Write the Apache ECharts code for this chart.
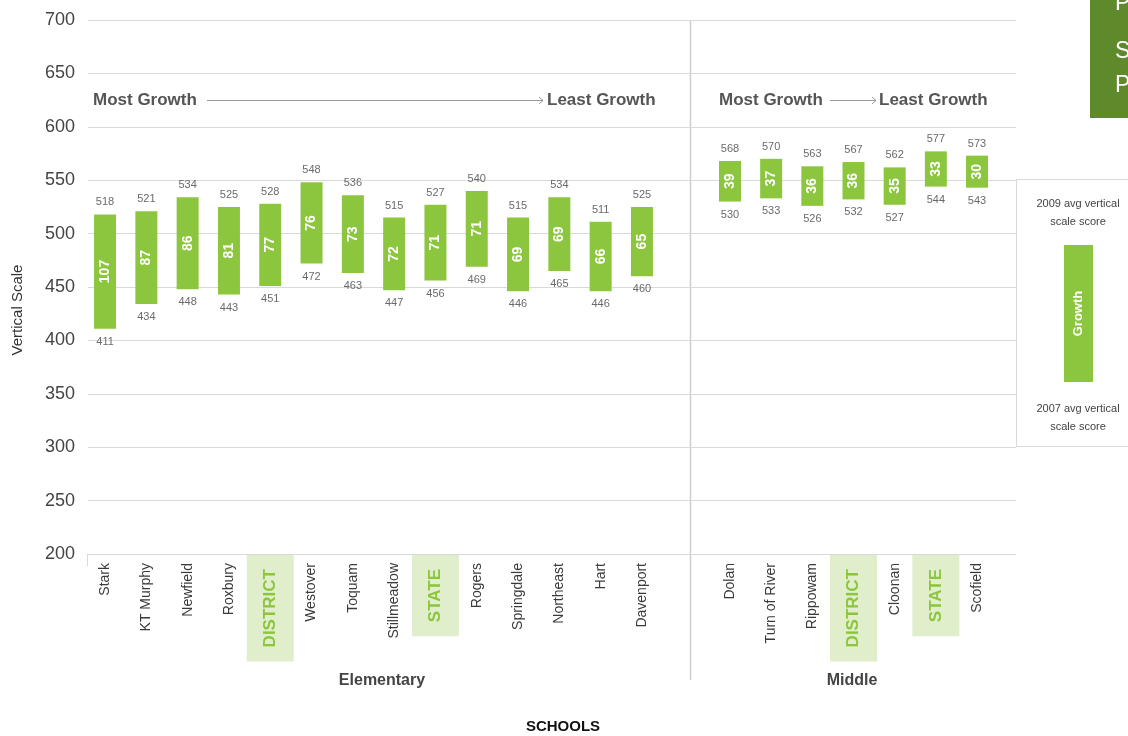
<!DOCTYPE html>
<html>
<head>
<meta charset="utf-8">
<script src="https://cdn.jsdelivr.net/npm/echarts@6/dist/echarts.min.js"></script>
<style>
html,body{margin:0;padding:0;background:#fff;}
#chart{width:1128px;height:736px;}
</style>
</head>
<body>
<div id="chart"></div>
<script>
// ---- data ----
const elemSchools = ['Stark','KT Murphy','Newfield','Roxbury','DISTRICT','Westover','Toquam','Stillmeadow','STATE','Rogers','Springdale','Northeast','Hart','Davenport'];
const elem2007 = [411,434,448,443,451,472,463,447,456,469,446,465,446,460];
const elem2009 = [518,521,534,525,528,548,536,515,527,540,515,534,511,525];
const elemGrowth = [107,87,86,81,77,76,73,72,71,71,69,69,66,65];

const midSchools = ['Dolan','Turn of River','Rippowam','DISTRICT','Cloonan','STATE','Scofield'];
const mid2007 = [530,533,526,532,527,544,543];
const mid2009 = [568,570,563,567,562,577,573];
const midGrowth = [39,37,36,36,35,33,30];

const yTicks = [200,250,300,350,400,450,500,550,600,650,700];
const highlighted = ['DISTRICT','STATE'];

// ---- style ----
const FONT = '"Liberation Sans", Arial, Helvetica, sans-serif';
const GREEN = '#8cc63f';
const GRID = '#d9d9d9';
const TXT = '#444';

const chart = echarts.init(document.getElementById('chart'), null, {renderer:'canvas'});

function catAxis(gridIndex, data){
  return {
    type:'category', gridIndex, data,
    axisLine:{show:false}, axisTick:{show:false},
    axisLabel:{
      interval:0, rotate:90, margin:1,
      formatter: v => highlighted.includes(v) ? '{h|'+v+'}' : '{n|'+v+'}',
      rich:{
        n:{fontFamily:FONT, fontSize:14, color:'#3a3a3a', padding:[0,8,0,0]},
        h:{fontFamily:FONT, fontSize:17, fontWeight:'bold', color:GREEN,
           backgroundColor:'#e1eecb', padding:[15,14,15,14], lineHeight:20}
      }
    }
  };
}
function valAxis(gridIndex){
  return {type:'value', gridIndex, min:yTicks[0], max:yTicks[yTicks.length-1], interval:50, show:false};
}
function groupSeries(idx, names, lo, hi, gr){
  const stack = 's'+idx;
  return [
    {type:'bar', xAxisIndex:idx, yAxisIndex:idx, stack, barWidth:22, silent:true,
     itemStyle:{color:'transparent'}, data:lo},
    {type:'bar', xAxisIndex:idx, yAxisIndex:idx, stack, barWidth:22, silent:true,
     itemStyle:{color:GREEN},
     data:hi.map((h,i)=>h-lo[i]),
     label:{show:true, position:'inside', rotate:90, color:'#fff', fontFamily:FONT,
            fontWeight:'bold', fontSize:14,
            formatter:p=>String(gr[p.dataIndex])}},
    {type:'scatter', xAxisIndex:idx, yAxisIndex:idx, symbolSize:1, silent:true,
     itemStyle:{color:'transparent'},
     data:names.map((n,i)=>[n,hi[i]]),
     label:{show:true, position:'top', distance:6, color:TXT, fontFamily:FONT, fontSize:11,
            formatter:p=>String(p.value[1])}},
    {type:'scatter', xAxisIndex:idx, yAxisIndex:idx, symbolSize:1, silent:true,
     itemStyle:{color:'transparent'},
     data:names.map((n,i)=>[n,lo[i]]),
     label:{show:true, position:'bottom', distance:7, color:TXT, fontFamily:FONT, fontSize:11,
            formatter:p=>String(p.value[1])}}
  ];
}

const lineStyle = {stroke:GRID, lineWidth:1};
const annoStyle = {fill:'#555', font:'bold 17px '+FONT};

const option = {
  animation:false,
  backgroundColor:'#fff',
  grid:[
    {left:88, right:112, top:20, bottom:182},
    {left:84.4, right:465.4, top:20, bottom:182},
    {left:709.4, right:130.4, top:20, bottom:182}
  ],
  xAxis:[
    {type:'value', gridIndex:0, show:false, min:0, max:1},
    catAxis(1, elemSchools),
    catAxis(2, midSchools)
  ],
  yAxis:[
    {type:'value', gridIndex:0, min:yTicks[0], max:yTicks[yTicks.length-1], interval:50,
     axisLine:{show:false}, axisTick:{show:false},
     axisLabel:{color:TXT, fontSize:18, fontFamily:FONT, margin:13},
     splitLine:{lineStyle:{color:GRID, width:1}}},
    valAxis(1), valAxis(2)
  ],
  series:[
    ...groupSeries(1, elemSchools, elem2007, elem2009, elemGrowth),
    ...groupSeries(2, midSchools, mid2007, mid2009, midGrowth)
  ],
  graphic:[
    {type:'line', shape:{x1:690.5,y1:20,x2:690.5,y2:680}, style:{stroke:'#cfcfcf', lineWidth:1.5}, silent:true},
    {type:'line', shape:{x1:87.5,y1:554,x2:87.5,y2:566}, style:lineStyle, silent:true},
    {type:'line', shape:{x1:1016,y1:179.5,x2:1128,y2:179.5}, style:lineStyle, silent:true},
    {type:'line', shape:{x1:1016,y1:446.5,x2:1128,y2:446.5}, style:lineStyle, silent:true},
    {type:'line', shape:{x1:1016.5,y1:179.5,x2:1016.5,y2:446.5}, style:lineStyle, silent:true},
    {type:'text', x:1078, y:204, style:{text:'2009 avg vertical', fill:TXT, font:'11px '+FONT, align:'center', verticalAlign:'middle'}},
    {type:'text', x:1078, y:222, style:{text:'scale score', fill:TXT, font:'11px '+FONT, align:'center', verticalAlign:'middle'}},
    {type:'rect', shape:{x:1064,y:245,width:29,height:137}, style:{fill:GREEN}},
    {type:'text', x:1078.5, y:313.5, rotation:Math.PI/2, style:{text:'Growth', fill:'#fff', font:'bold 13px '+FONT, align:'center', verticalAlign:'middle'}},
    {type:'text', x:1078, y:409, style:{text:'2007 avg vertical', fill:TXT, font:'11px '+FONT, align:'center', verticalAlign:'middle'}},
    {type:'text', x:1078, y:427, style:{text:'scale score', fill:TXT, font:'11px '+FONT, align:'center', verticalAlign:'middle'}},
    {type:'rect', shape:{x:1090,y:0,width:38,height:118}, style:{fill:'#5e8a2b'}},
    {type:'text', x:1115, y:4, style:{text:'P', fill:'#fff', font:'23px '+FONT, align:'left', verticalAlign:'middle'}},
    {type:'text', x:1115, y:52, style:{text:'S', fill:'#fff', font:'23px '+FONT, align:'left', verticalAlign:'middle'}},
    {type:'text', x:1115, y:86, style:{text:'P', fill:'#fff', font:'23px '+FONT, align:'left', verticalAlign:'middle'}},
    {type:'text', x:93, y:100, style:{text:'Most Growth', ...annoStyle, align:'left', verticalAlign:'middle'}},
    {type:'line', shape:{x1:207,y1:100.5,x2:543,y2:100.5}, style:{stroke:'#999', lineWidth:1}},
    {type:'polyline', shape:{points:[[539,97],[543,100.5],[539,104]]}, style:{stroke:'#999', lineWidth:1, fill:null}},
    {type:'text', x:547, y:100, style:{text:'Least Growth', ...annoStyle, align:'left', verticalAlign:'middle'}},
    {type:'text', x:719, y:100, style:{text:'Most Growth', ...annoStyle, align:'left', verticalAlign:'middle'}},
    {type:'line', shape:{x1:830,y1:100.5,x2:876,y2:100.5}, style:{stroke:'#999', lineWidth:1}},
    {type:'polyline', shape:{points:[[872,97],[876,100.5],[872,104]]}, style:{stroke:'#999', lineWidth:1, fill:null}},
    {type:'text', x:879, y:100, style:{text:'Least Growth', ...annoStyle, align:'left', verticalAlign:'middle'}},
    {type:'text', x:382, y:681, style:{text:'Elementary', fill:TXT, font:'bold 16px '+FONT, align:'center', verticalAlign:'middle'}},
    {type:'text', x:852, y:681, style:{text:'Middle', fill:TXT, font:'bold 16px '+FONT, align:'center', verticalAlign:'middle'}},
    {type:'text', x:563, y:727, style:{text:'SCHOOLS', fill:'#111', font:'bold 15px '+FONT, align:'center', verticalAlign:'middle'}},
    {type:'text', x:18, y:310, rotation:Math.PI/2, style:{text:'Vertical Scale', fill:'#333', font:'15px '+FONT, align:'center', verticalAlign:'middle'}}
  ]
};
chart.setOption(option);
</script>
</body>
</html>
